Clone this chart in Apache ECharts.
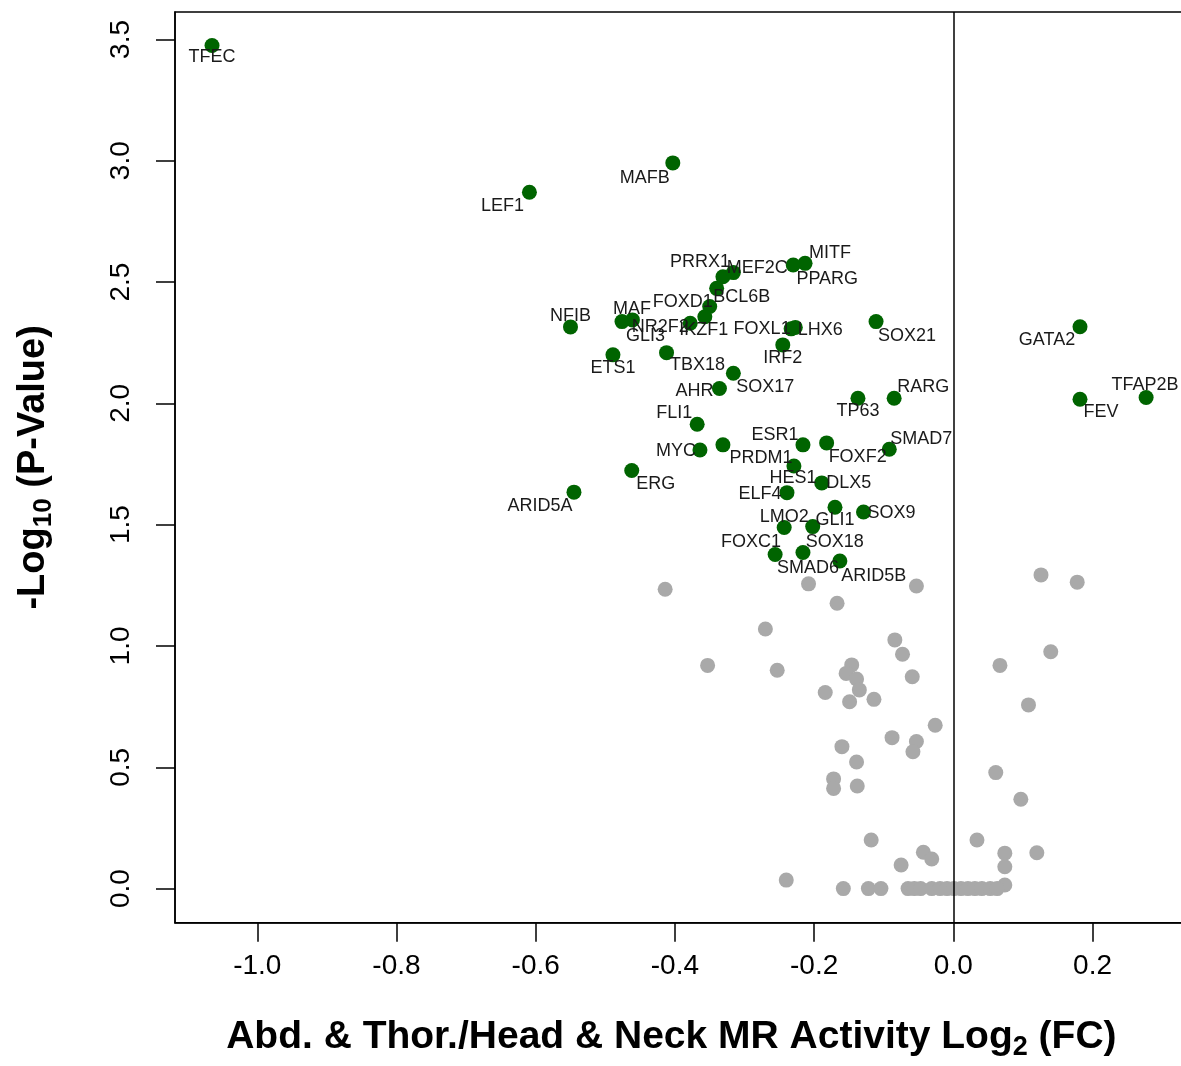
<!DOCTYPE html>
<html>
<head>
<meta charset="utf-8">
<script src="https://cdn.jsdelivr.net/npm/echarts@6/dist/echarts.min.js"></script>
<style>
html,body{margin:0;padding:0;background:#fff;}
#chart{width:1181px;height:1066px;}
</style>
</head>
<body>
<div id="chart"></div>
<script>
// ---- data ----
const geneNames = ["TFEC","MAFB","LEF1","PRRX1","MEF2C","PPARG","MITF","BCL6B","FOXD1","IKZF1","NR2F2","GLI3","MAF","NFIB","FOXL1","LHX6","IRF2","SOX21","GATA2","ETS1","TBX18","SOX17","AHR","TP63","RARG","FEV","TFAP2B","FLI1","MYC","PRDM1","ESR1","FOXF2","SMAD7","HES1","DLX5","ELF4","ERG","ARID5A","GLI1","SOX9","LMO2","SOX18","FOXC1","SMAD6","ARID5B"];
const geneFC = [-1.065,-0.403,-0.609,-0.331,-0.316,-0.230,-0.213,-0.340,-0.350,-0.357,-0.378,-0.461,-0.476,-0.550,-0.233,-0.227,-0.245,-0.111,0.182,-0.489,-0.412,-0.316,-0.336,-0.137,-0.085,0.182,0.277,-0.368,-0.364,-0.331,-0.216,-0.182,-0.092,-0.229,-0.189,-0.239,-0.462,-0.545,-0.170,-0.129,-0.243,-0.202,-0.256,-0.216,-0.163];
const geneP = [3.475,2.991,2.870,2.522,2.539,2.570,2.577,2.474,2.399,2.357,2.330,2.344,2.337,2.315,2.307,2.313,2.241,2.337,2.316,2.200,2.209,2.124,2.061,2.021,2.021,2.017,2.024,1.914,1.808,1.829,1.829,1.837,1.811,1.742,1.672,1.632,1.723,1.634,1.572,1.552,1.488,1.492,1.377,1.385,1.350];

const otherFC = [-0.414,-0.208,-0.053,-0.167,-0.270,-0.084,-0.073,-0.353,-0.253,-0.146,-0.154,-0.139,-0.135,-0.059,-0.184,-0.149,-0.114,-0.026,-0.088,-0.053,-0.058,-0.160,-0.139,-0.172,-0.172,-0.138,0.061,0.097,-0.118,0.034,-0.043,-0.031,0.074,0.120,-0.075,0.074,-0.240,0.074,0.067,0.108,0.126,0.178,0.140,-0.158,-0.122,-0.104,-0.065,-0.056,-0.047,-0.031,-0.019,-0.009,0.001,0.011,0.021,0.031,0.041,0.053,0.063];
const otherP = [1.234,1.256,1.247,1.176,1.070,1.025,0.966,0.920,0.900,0.922,0.887,0.864,0.819,0.873,0.808,0.770,0.780,0.673,0.622,0.606,0.564,0.585,0.522,0.452,0.413,0.423,0.478,0.368,0.200,0.200,0.150,0.122,0.146,0.148,0.097,0.090,0.035,0.015,0.920,0.757,1.293,1.263,0.976,0,0,0,0,0,0,0,0,0,0,0,0,0,0,0,0];

const xTicks = [-1.0,-0.8,-0.6,-0.4,-0.2,0.0,0.2];
const yTicks = [0.0,0.5,1.0,1.5,2.0,2.5,3.0,3.5];

// ---- label placement (style, px offsets from each point) ----
const labelOffsets = {
  TFEC:[0,12], MAFB:[-28,15], LEF1:[-27,14], PRRX1:[-23,-15], MEF2C:[24,-5], PPARG:[34,14], MITF:[25,-10],
  BCL6B:[25,9], FOXD1:[-27,-5], IKZF1:[-1,13], NR2F2:[-30,4], GLI3:[13,16], MAF:[10,-13], NFIB:[0,-11],
  FOXL1:[-29,0], LHX6:[25,3], IRF2:[0,13], SOX21:[31,14], GATA2:[-33,13], ETS1:[0,13], TBX18:[31,12],
  SOX17:[32,14], AHR:[-25,2], TP63:[0,13], RARG:[29,-11], FEV:[21,13], TFAP2B:[-1,-12], FLI1:[-23,-11],
  MYC:[-24,1], PRDM1:[38,13], ESR1:[-28,-10], FOXF2:[31,14], SMAD7:[32,-10], HES1:[-1,12], DLX5:[27,0],
  ELF4:[-27,1], ERG:[24,13], ARID5A:[-34,14], GLI1:[0,13], SOX9:[28,1], LMO2:[0,-11], SOX18:[22,15],
  FOXC1:[-24,-12], SMAD6:[5,15], ARID5B:[34,15]
};

const FONT = "'Liberation Sans', Arial, sans-serif";

const greenData = geneNames.map((n, i) => ({ name: n, value: [geneFC[i], geneP[i]] }));
const greyData = otherFC.map((x, i) => [x, otherP[i]]);

const chart = echarts.init(document.getElementById('chart'), null, {renderer: 'canvas'});
chart.setOption({
  animation: false,
  backgroundColor: '#fff',
  grid: {
    left: 175, top: 12, height: 910.7, width: 1008.7,
    outerBoundsMode: 'none', containLabel: false,
    show: true, borderColor: '#000', borderWidth: 1.5, backgroundColor: 'transparent'
  },
  xAxis: {
    type: 'value', min: -1.1182, max: 0.3310,
    axisLine: { show: true, onZero: false, lineStyle: { color: '#000', width: 1.5 } },
    axisTick: { show: true, length: 19, inside: false, customValues: xTicks, lineStyle: { color: '#000', width: 1.5 } },
    axisLabel: {
      customValues: xTicks, margin: 30, color: '#000', fontSize: 28, fontFamily: FONT,
      formatter: v => v.toFixed(1)
    },
    splitLine: { show: false },
    name: '{b|Abd. & Thor./Head & Neck MR Activity Log}{s|2}{b| (FC)}',
    nameLocation: 'middle', nameGap: 92,
    nameTextStyle: {
      padding: [0, 16, 0, 0],
      rich: {
        b: { fontSize: 39, fontWeight: 'bold', fontFamily: FONT, color: '#000', lineHeight: 46 },
        s: { fontSize: 27, fontWeight: 'bold', fontFamily: FONT, color: '#000', lineHeight: 26, verticalAlign: 'bottom' }
      }
    }
  },
  yAxis: {
    type: 'value', min: -0.1406, max: 3.613,
    axisLine: { show: true, onZero: false, lineStyle: { color: '#000', width: 1.5 } },
    axisTick: { show: true, length: 19, inside: false, customValues: yTicks, lineStyle: { color: '#000', width: 1.5 } },
    axisLabel: {
      customValues: yTicks, margin: 40, rotate: 90, color: '#000', fontSize: 28, fontFamily: FONT,
      formatter: v => v.toFixed(1)
    },
    splitLine: { show: false },
    name: '{b|-Log}{s|10}{b| (P-Value)}',
    nameLocation: 'middle', nameGap: 118, nameRotate: 90,
    nameTextStyle: {
      rich: {
        b: { fontSize: 38, fontWeight: 'bold', fontFamily: FONT, color: '#000', lineHeight: 46 },
        s: { fontSize: 26, fontWeight: 'bold', fontFamily: FONT, color: '#000', lineHeight: 26, verticalAlign: 'bottom' }
      }
    }
  },
  series: [
    {
      type: 'scatter', name: 'other', data: greyData, symbol: 'circle', symbolSize: 15,
      itemStyle: { color: '#A9A9A9', opacity: 1 }, z: 2, silent: true
    },
    {
      type: 'scatter', name: 'sig', data: greenData, symbol: 'circle', symbolSize: 15,
      itemStyle: { color: '#006400', opacity: 1 }, z: 3, silent: true,
      label: {
        show: true, position: 'inside', formatter: p => p.name,
        color: '#1a1a1a', fontSize: 18, fontFamily: FONT
      },
      labelLayout: function (params) {
        const off = labelOffsets[geneNames[params.dataIndex]] || [0, 0];
        return { dx: off[0], dy: off[1], hideOverlap: false };
      }
    },
    {
      type: 'line', data: [], z: 5, silent: true,
      markLine: {
        silent: true, symbol: ['none', 'none'], label: { show: false },
        lineStyle: { color: '#000', width: 1.5, type: 'solid' },
        data: [{ xAxis: 0 }],
        animation: false
      }
    }
  ]
});
</script>
</body>
</html>
